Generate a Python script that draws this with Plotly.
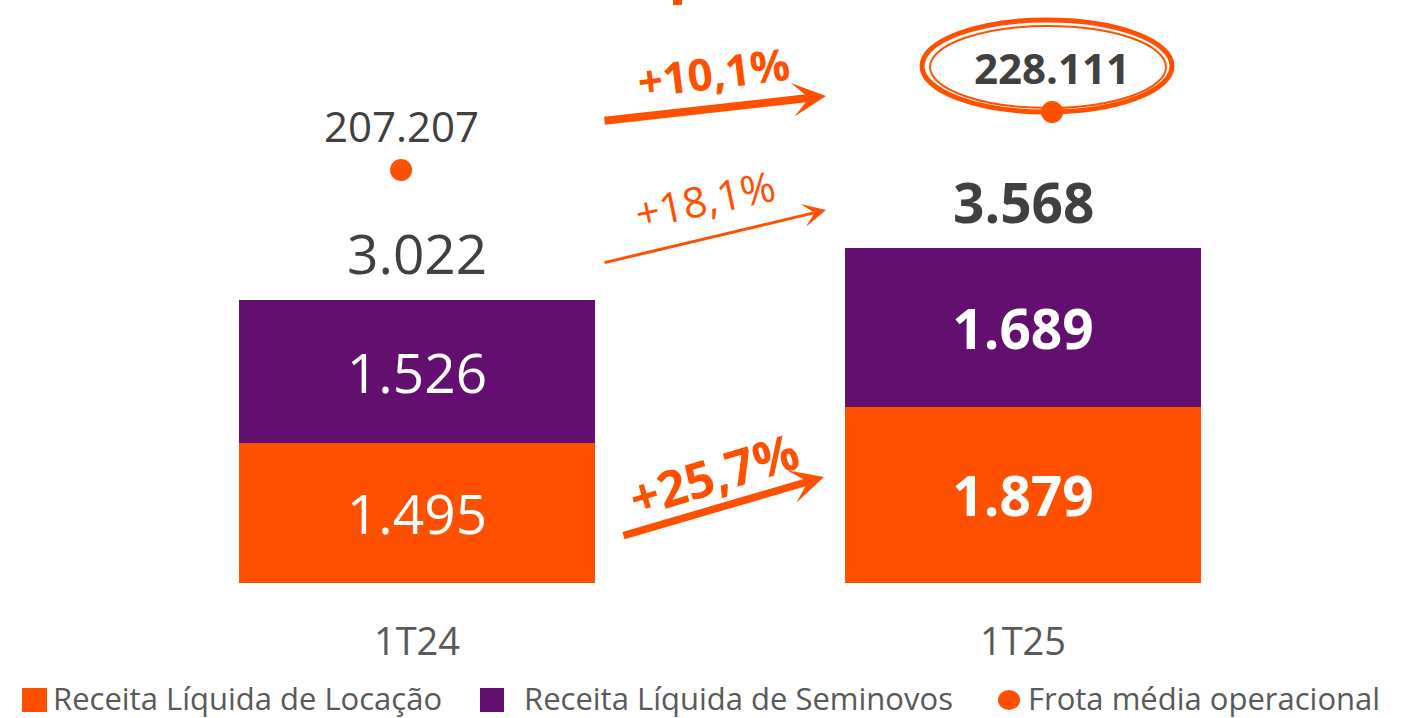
import plotly.graph_objects as go

# ---------------- data ----------------
categories = ["1T24", "1T25"]
locacao = [1495, 1879]          # Receita Líquida de Locação (R$ mi)
seminovos = [1526, 1689]        # Receita Líquida de Seminovos (R$ mi)
totals = [3022, 3568]           # Receita líquida total
frota = [207207, 228111]        # Frota média operacional
growth_labels = ["+10,1%", "+18,1%", "+25,7%"]
legend_labels = ["Receita Líquida de Locação", "Receita Líquida de Seminovos", "Frota média operacional"]

# ---------------- style ----------------
ORANGE = "#FF5000"
PURPLE = "#620F70"
DARK = "#404040"
GREY = "#595959"
FONT = "Open Sans"
W, H = 1403, 718
PLOT_BOTTOM = 583
PLOT_H = 583


def px(x):
    return x / W


def py(y):
    return (PLOT_BOTTOM - y) / PLOT_H


def fmt(v):
    return f"{v:,.0f}".replace(",", ".")


bold_idx = [False, True]

fig = go.Figure()

fig.add_trace(go.Bar(
    x=categories, y=locacao, name=legend_labels[0],
    marker=dict(color=ORANGE, line=dict(width=0)),
    width=0.5875,
    text=[("<b>%s</b>" % fmt(v)) if b else fmt(v) for v, b in zip(locacao, bold_idx)],
    textposition="inside", insidetextanchor="middle", textangle=0,
    textfont=dict(family=FONT, size=55, color="white"),
    constraintext="none", hoverinfo="skip",
))
fig.add_trace(go.Bar(
    x=categories, y=seminovos, name=legend_labels[1],
    marker=dict(color=PURPLE, line=dict(width=0)),
    width=0.5875,
    text=[("<b>%s</b>" % fmt(v)) if b else fmt(v) for v, b in zip(seminovos, bold_idx)],
    textposition="inside", insidetextanchor="middle", textangle=0,
    textfont=dict(family=FONT, size=55, color="white"),
    constraintext="none", hoverinfo="skip",
))
fig.add_trace(go.Scatter(
    x=categories, y=frota, name=legend_labels[2], xaxis="x2", yaxis="y2",
    mode="markers", marker=dict(color=ORANGE, size=22),
    hoverinfo="skip",
))

annotations = []
# totals above bars
for c, t, b in zip(categories, totals, bold_idx):
    annotations.append(dict(
        x=c, y=t, xref="x", yref="y", yanchor="middle", yshift=47,
        text=("<b>%s</b>" % fmt(t)) if b else fmt(t), showarrow=False,
        font=dict(family=FONT, size=55, color=DARK),
    ))
# frota labels
for c, f, b in zip(categories, frota, bold_idx):
    annotations.append(dict(
        x=c, y=f, xref="x2", yref="y2", yanchor="middle", yshift=45,
        text=("<b>%s</b>" % fmt(f)) if b else fmt(f), showarrow=False,
        font=dict(family=FONT, size=42, color=DARK),
    ))

# growth arrows (tail -> tip) and labels
arrows = [
    dict(tail=(603, 121), tip=(826, 96), width=8, size=0.7),
    dict(tail=(603, 263), tip=(826, 210), width=3, size=1.3),
    dict(tail=(622, 536), tip=(824, 477), width=7.5, size=0.75),
]
for a in arrows:
    annotations.append(dict(
        x=px(a["tip"][0]), y=py(a["tip"][1]), xref="paper", yref="paper",
        ax=a["tail"][0] - a["tip"][0], ay=a["tail"][1] - a["tip"][1],
        axref="pixel", ayref="pixel",
        text="", showarrow=True, arrowhead=3, arrowwidth=a["width"],
        arrowsize=a["size"], arrowcolor=ORANGE, standoff=0, startstandoff=0,
    ))

growth_text = [
    dict(pos=(713, 72), angle=-7, bold=True, size=44),
    dict(pos=(705, 198), angle=-12, bold=False, size=42),
    dict(pos=(714, 474), angle=-17, bold=True, size=50),
]
for g, lbl in zip(growth_text, growth_labels):
    annotations.append(dict(
        x=px(g["pos"][0]), y=py(g["pos"][1]), xref="paper", yref="paper",
        xanchor="center", yanchor="middle", textangle=g["angle"],
        text=("<b>%s</b>" % lbl) if g["bold"] else lbl, showarrow=False,
        font=dict(family=FONT, size=g["size"], color=ORANGE),
    ))

# manual legend
legend_text_x = [52, 523, 1027]
for x0, lbl in zip(legend_text_x, legend_labels):
    annotations.append(dict(
        x=px(x0), y=py(698), xref="paper", yref="paper",
        xanchor="left", yanchor="middle", text=lbl, showarrow=False,
        font=dict(family=FONT, size=31, color=GREY), borderpad=0,
    ))

shapes = [
    # legend symbols
    dict(type="rect", xref="paper", yref="paper", x0=px(22), x1=px(47), y0=py(712), y1=py(688),
         fillcolor=ORANGE, line=dict(width=0)),
    dict(type="rect", xref="paper", yref="paper", x0=px(480), x1=px(504), y0=py(712), y1=py(688),
         fillcolor=PURPLE, line=dict(width=0)),
    dict(type="circle", xref="paper", yref="paper", x0=px(998), x1=px(1020), y0=py(710), y1=py(690),
         fillcolor=ORANGE, line=dict(width=0)),
    # hand-drawn highlight around 228.111
    dict(type="circle", xref="paper", yref="paper", x0=px(922), x1=px(1172), y0=py(112), y1=py(20),
         line=dict(color=ORANGE, width=5)),
    dict(type="circle", xref="paper", yref="paper", x0=px(930), x1=px(1166), y0=py(108), y1=py(26),
         line=dict(color=ORANGE, width=2)),
    # cut-off title fragment at the very top
    dict(type="rect", xref="paper", yref="paper", x0=px(673), x1=px(682), y0=py(5), y1=py(0),
         fillcolor=ORANGE, line=dict(width=0)),
]

fig.update_layout(
    width=W, height=H,
    barmode="stack",
    separators=",.",
    showlegend=False,
    paper_bgcolor="white", plot_bgcolor="white",
    margin=dict(l=0, r=0, t=0, b=H - PLOT_BOTTOM),
    xaxis=dict(range=[-0.688, 1.627], showgrid=False, zeroline=False, showline=False,
               ticks="", tickfont=dict(family=FONT, size=38, color=GREY),
               ticklabelstandoff=33, fixedrange=True),
    xaxis2=dict(range=[-0.616, 1.539], overlaying="x", visible=False, fixedrange=True),
    yaxis=dict(range=[0, 6215], visible=False, fixedrange=True),
    yaxis2=dict(range=[58362, 268475], overlaying="y", visible=False, fixedrange=True),
    annotations=annotations,
    shapes=shapes,
    font=dict(family=FONT),
)

fig.write_html(
    "out.html",
    config={"displayModeBar": False, "staticPlot": True},
    post_script="document.body.style.margin='0px';document.body.style.overflow='hidden';",
)
